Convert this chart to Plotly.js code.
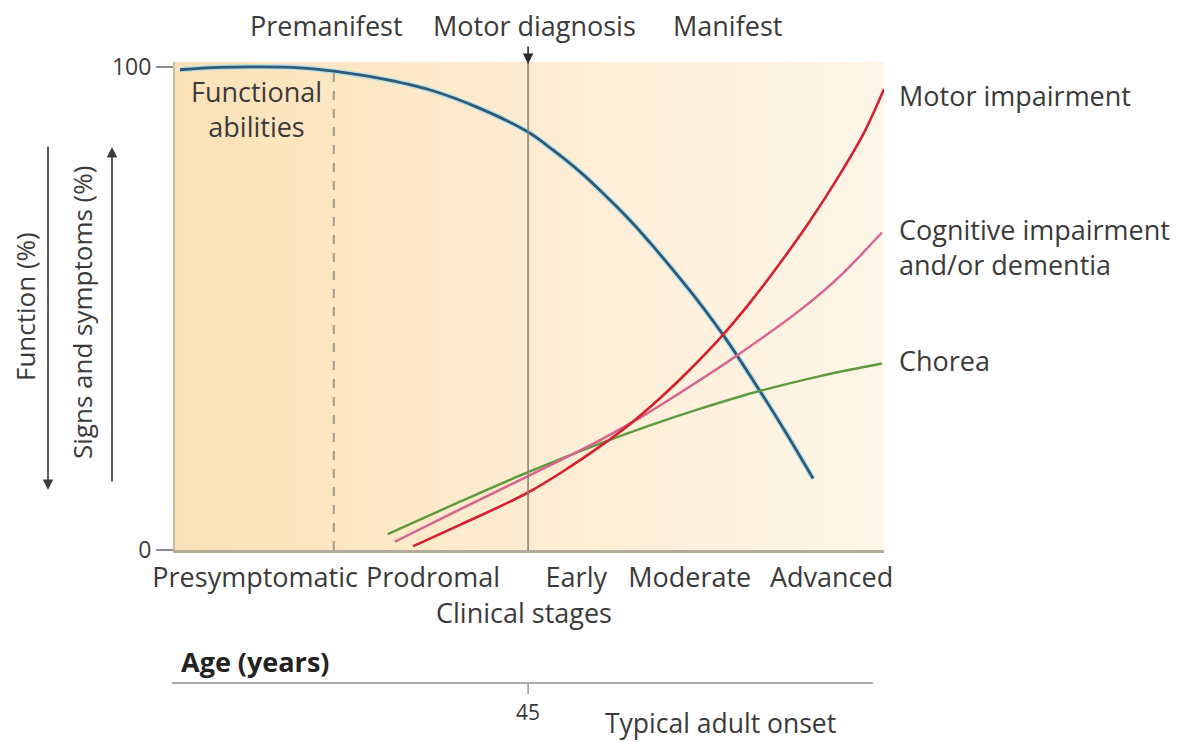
<!DOCTYPE html>
<html>
<head>
<meta charset="utf-8">
<script src="https://cdn.plot.ly/plotly-3.0.1.min.js"></script>
<style>html,body{margin:0;padding:0;background:#fff;}#chart{width:1181px;height:742px;}</style>
</head>
<body>
<div id="chart"></div>
<script>
// ---- data (x = position along clinical course 0-100, y = %) ----
const stageTickPos = [11.3, 36.4, 56.6, 72.6, 92.6];
const stageLabels = ["Presymptomatic", "Prodromal", "Early", "Moderate", "Advanced"];

const functionX = [0.7, 6.3, 12.0, 17.6, 22.4, 28.9, 36.0, 43.0, 49.8, 53.3, 57.1, 59.9, 64.2, 67.0, 70.5, 74.0, 77.6, 82.2, 86.0, 90.0];
const functionY = [99.4, 99.9, 100, 99.8, 99.1, 97.6, 95.2, 91.4, 86.5, 82.8, 78.3, 74.5, 68.2, 63.6, 57.5, 51.1, 43.9, 33.6, 24.7, 14.8];

const motorX = [33.6, 40.2, 49.8, 55.7, 59.9, 64.2, 68.4, 72.6, 76.9, 81.1, 85.3, 89.6, 93.8, 97.3, 100];
const motorY = [0.8, 5.2, 11.9, 17.2, 21.4, 26.1, 31.4, 37.3, 43.9, 51.2, 59.3, 68.2, 77.8, 86.7, 95.4];

const cognitiveX = [31.0, 40.2, 49.8, 59.9, 65.6, 71.2, 79.0, 88.2, 93.8, 99.7];
const cognitiveY = [1.7, 8.4, 15.3, 22.7, 27.4, 32.5, 40.0, 49.7, 56.7, 65.7];

const choreaX = [30.0, 40.2, 49.8, 59.9, 67.0, 74.0, 82.2, 91.0, 99.7];
const choreaY = [3.3, 10.0, 16.1, 22.0, 25.8, 29.2, 32.8, 36.0, 38.6];

const premanifestBoundary = 22.4;
const motorDiagnosisX = 49.8;
const yTickVals = [0, 100];
const yTickText = ["0", "100"];
const onsetAgeLabel = "45";

// ---- layout helpers (pixel -> paper) ----
const L = 175, R = 884, T = 62, B = 550;
const W = R - L, H = B - T;
const px = v => (v - L) / W;
const py = v => (B - v) / H;

const FONT = "Open Sans, Noto Sans, sans-serif";
const TXT = "#3a3a3a";
const FS = 27;

const traces = [
  { // background gradient panel
    x: [0, 100, 100, 0, 0], y: [0, 0, 101, 101, 0],
    mode: "lines", fill: "toself", line: {width: 0},
    fillgradient: {type: "horizontal", start: 0, stop: 100,
      colorscale: [[0, "#fce1b7"], [0.25, "#fde7c4"], [0.6, "#feeed7"], [1, "#fef6e8"]]},
    hoverinfo: "skip", showlegend: false
  },
  { x: functionX, y: functionY, mode: "lines", line: {color: "rgba(160,220,240,0.7)", width: 5.5, shape: "spline"}, hoverinfo: "skip", showlegend: false },
  { x: functionX, y: functionY, mode: "lines", line: {color: "#2e5a78", width: 2.8, shape: "spline"}, name: "Functional abilities", showlegend: false },
  { x: choreaX, y: choreaY, mode: "lines", line: {color: "#5f9a3c", width: 2.4, shape: "spline"}, name: "Chorea", showlegend: false },
  { x: cognitiveX, y: cognitiveY, mode: "lines", line: {color: "#d9618f", width: 2.4, shape: "spline"}, name: "Cognitive impairment", showlegend: false },
  { x: motorX, y: motorY, mode: "lines", line: {color: "#d5202e", width: 2.6, shape: "spline"}, name: "Motor impairment", showlegend: false }
];

const shapes = [
  {type: "line", xref: "x", yref: "y", x0: premanifestBoundary, x1: premanifestBoundary, y0: 0, y1: 100.5,
   line: {color: "#a29a8e", width: 2, dash: "dash"}},
  {type: "line", xref: "x", yref: "y", x0: motorDiagnosisX, x1: motorDiagnosisX, y0: 0, y1: 101,
   line: {color: "#8a8276", width: 1.6}},
  // age axis
  {type: "line", xref: "paper", yref: "paper", x0: px(172), x1: px(873), y0: py(683), y1: py(683),
   line: {color: "#8f8f8f", width: 1.6}},
  {type: "line", xref: "x", yref: "paper", x0: motorDiagnosisX, x1: motorDiagnosisX, y0: py(683), y1: py(694),
   line: {color: "#8f8f8f", width: 1.4}}
];

const ann = (text, x, y, opts = {}) => Object.assign({
  text, x: px(x), y: py(y), xref: "paper", yref: "paper", showarrow: false,
  xanchor: "center", yanchor: "middle", font: {family: FONT, size: FS, color: TXT}
}, opts);

const annotations = [
  ann("Premanifest", 326, 25),
  ann("Motor diagnosis", 534, 25),
  ann("Manifest", 727, 25),
  ann("Functional<br>abilities", 256, 109),
  ann("Motor impairment", 897, 95, {xanchor: "left"}),
  ann("Cognitive impairment<br>and/or dementia", 897, 247, {xanchor: "left", align: "left"}),
  ann("Chorea", 897, 361, {xanchor: "left"}),
  ann("Clinical stages", 524, 612),
  ann("<b>Age (years)</b>", 179, 661, {xanchor: "left", font: {family: FONT, size: 27, color: "#222222"}}),
  ann(onsetAgeLabel, 528, 712, {font: {family: FONT, size: 21, color: TXT}}),
  ann("Typical adult onset", 603, 723, {xanchor: "left", font: {family: FONT, size: 26.5, color: TXT}}),
  ann("Function (%)", 25, 307, {textangle: -90, font: {family: FONT, size: 26, color: TXT}}),
  ann("Signs and symptoms (%)", 82, 313, {textangle: -90, font: {family: FONT, size: 26, color: TXT}}),
  // arrows
  {x: motorDiagnosisX, y: py(64), xref: "x", yref: "paper", ax: 0, ay: -19, axref: "pixel", ayref: "pixel",
   text: "", showarrow: true, arrowhead: 2, arrowsize: 1.3, arrowwidth: 1.6, arrowcolor: "#2a2a2a"},
  {x: px(48), y: py(490), xref: "paper", yref: "paper", ax: 0, ay: -345, text: "", showarrow: true,
   arrowhead: 2, arrowsize: 1.3, arrowwidth: 1.6, arrowcolor: "#3a3a3a"},
  {x: px(112), y: py(147), xref: "paper", yref: "paper", ax: 0, ay: 336, text: "", showarrow: true,
   arrowhead: 2, arrowsize: 1.3, arrowwidth: 1.6, arrowcolor: "#3a3a3a"}
];

const layout = {
  width: 1181, height: 742,
  margin: {l: L, r: 1181 - R, t: T, b: 742 - B, pad: 0},
  paper_bgcolor: "#ffffff", plot_bgcolor: "rgba(0,0,0,0)",
  showlegend: false,
  font: {family: FONT, color: TXT},
  xaxis: {range: [0, 100], tickvals: stageTickPos, ticktext: stageLabels, ticks: "outside", ticklen: 2,
    tickcolor: "rgba(0,0,0,0)", showgrid: false, zeroline: false, showline: true, linecolor: "#b3aa9a", linewidth: 3,
    tickfont: {family: FONT, size: FS, color: TXT}, fixedrange: true},
  yaxis: {range: [0, 101], tickvals: yTickVals, ticktext: yTickText, ticks: "outside", ticklen: 17,
    tickcolor: "#8c8c8c", tickwidth: 1.4, showgrid: false, zeroline: false, showline: true, linecolor: "#c9bca4", linewidth: 2,
    tickfont: {family: FONT, size: 23, color: TXT}, fixedrange: true},
  shapes, annotations
};

Plotly.newPlot("chart", traces, layout, {staticPlot: true, displayModeBar: false});
</script>
</body>
</html>
